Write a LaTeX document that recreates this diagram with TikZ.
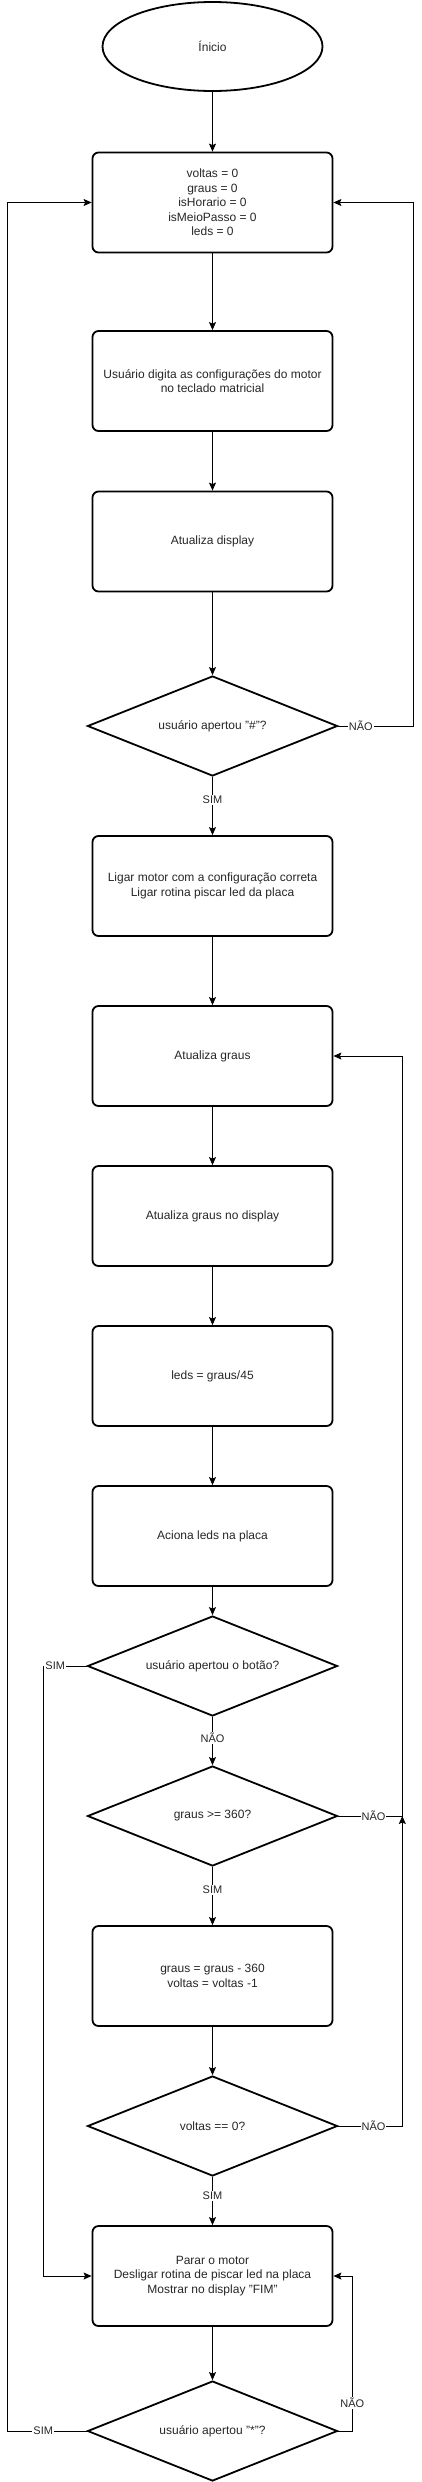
\documentclass[tikz,border=0pt]{standalone}
\usepackage{fontspec}
\setmainfont{Liberation Sans}
\usetikzlibrary{shapes.geometric,arrows.meta}
\begin{document}
\begin{tikzpicture}[x=1pt,y=-1pt,
  every node/.style={font=\fontsize{12}{14.4}\selectfont, text=black!85},
  proc/.style={draw=black, line width=1.8pt, rounded corners=6pt, minimum width=240pt, minimum height=100pt, align=center, inner sep=0pt},
  dec/.style={draw=black, line width=1.8pt, diamond, aspect=2.5, minimum width=250pt, minimum height=100pt, inner sep=0pt, align=center},
  term/.style={draw=black, line width=1.8pt, ellipse, minimum width=220pt, minimum height=89pt, inner sep=0pt},
  arr/.style={draw=black, line width=1pt, -{Stealth[length=8pt,width=7pt,inset=1.5pt]}},
  lbl/.style={fill=white, font=\fontsize{11}{13}\selectfont, inner sep=1pt}]
\useasboundingbox (0,0) rectangle (421,2482);

\node[term] (start) at (212.5,46.5) {Ínicio};
\node[proc] (b1) at (212.5,202.5) {voltas = 0\\graus = 0\\isHorario = 0\\isMeioPasso = 0\\leds = 0};
\node[proc] (b2) at (212.5,381) {Usuário digita as configurações do motor\\no teclado matricial};
\node[proc] (b3) at (212.5,541.5) {Atualiza display};
\node[dec] (d1) at (212.5,726) {usuário apertou "\#"?};
\node[proc] (b4) at (212.5,886) {Ligar motor com a configuração correta\\Ligar rotina piscar led da placa};
\node[proc] (b5) at (212.5,1056) {Atualiza graus};
\node[proc] (b6) at (212.5,1216) {Atualiza graus no display};
\node[proc] (b7) at (212.5,1376) {leds = graus/45};
\node[proc] (b8) at (212.5,1536) {Aciona leds na placa};
\node[dec] (d2) at (212.5,1666) {usuário apertou o botão?};
\node[dec] (d3) at (212.5,1816) {graus >= 360?};
\node[proc] (b9) at (212.5,1976) {graus = graus - 360\\voltas = voltas -1};
\node[dec] (d4) at (212.5,2126) {voltas == 0?};
\node[proc] (b10) at (212.5,2276) {Parar o motor\\Desligar rotina de piscar led na placa\\Mostrar no display "FIM"};
\node[dec] (d5) at (212.5,2431) {usuário apertou "*"?};

\coordinate (railL) at (7.7,0);
\coordinate (railL2) at (43,0);
\coordinate (railR) at (413,0);
\coordinate (railR2) at (402.3,0);
\coordinate (railR3) at (352.3,0);
\coordinate (j3) at (402.3,1816);

\draw[arr] (start) -- (b1);
\draw[arr] (b1) -- (b2);
\draw[arr] (b2) -- (b3);
\draw[arr] (b3) -- (d1);
\draw[arr] (d1) -- node[lbl, pos=0.4] {SIM} (b4);
\draw[arr] (d1.east) -- node[lbl, pos=0.3] {NÃO} (d1.east -| railR) |- (b1.east);
\draw[arr] (b4) -- (b5);
\draw[arr] (b5) -- (b6);
\draw[arr] (b6) -- (b7);
\draw[arr] (b7) -- (b8);
\draw[arr] (b8) -- (d2);
\draw[arr] (d2) -- node[lbl, pos=0.43] {NÃO} (d3);
\draw[arr] (d2.west) -- node[lbl, pos=0.72] {SIM} (d2.west -| railL2) |- (b10.west);
\draw[arr] (d3.east) -- node[lbl, pos=0.55] {NÃO} (j3) |- (b5.east);
\draw[arr] (d3) -- node[lbl, pos=0.4] {SIM} (b9);
\draw[arr] (b9) -- (d4);
\draw[arr] (d4.east) -- node[lbl, pos=0.55] {NÃO} (d4.east -| railR2) -- (j3);
\draw[arr] (d4) -- node[lbl, pos=0.4] {SIM} (b10);
\draw[arr] (b10) -- (d5);
\draw[arr] (d5.east) -- (d5.east -| railR3) -- node[lbl, pos=0.18] {NÃO} (b10.east -| railR3) -- (b10.east);
\draw[arr] (d5.west) -- node[lbl, pos=0.55] {SIM} (d5.west -| railL) |- (b1.west);
\end{tikzpicture}
\end{document}
